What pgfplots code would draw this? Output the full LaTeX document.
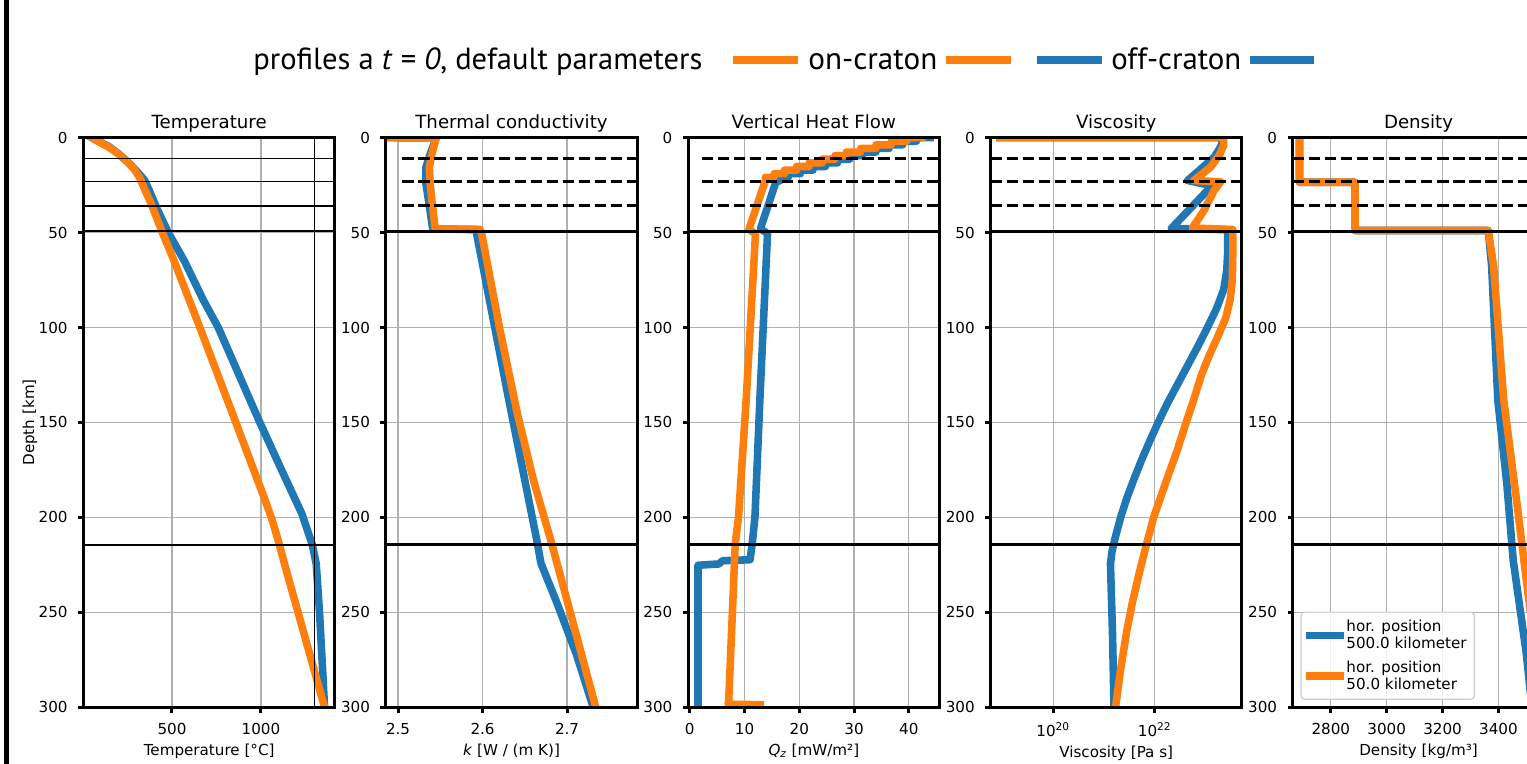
\documentclass[border=0pt]{standalone}
\usepackage{fontspec}
\setmainfont{DejaVu Sans}
\newfontfamily\titlefont{PT Sans}
\usepackage{pgfplots}
\pgfplotsset{compat=1.18}
\definecolor{cblue}{HTML}{1F77B4}
\definecolor{corange}{HTML}{FF7F0E}
\tikzset{
  dl/.style={line width=2.18pt, dash pattern=on 8.07pt off 3.49pt},
  sl/.style={line width=2.18pt},
  bl/.style={cblue, line width=5.45pt, line cap=rect, line join=round},
  or/.style={corange, line width=5.45pt, line cap=rect, line join=round},
}
\pgfplotsset{
  prof/.style={
    scale only axis, width=181.08pt, height=410.18pt, anchor=south west,
    y dir=reverse, ymin=0, ymax=300,
    ytick={0,50,100,150,200,250,300},
    yticklabels={0,50,100,150,200,250,300},
    axis line style={line width=2.18pt},
    tick align=outside, xtick pos=left, ytick pos=left,
    major tick length=3.82pt,
    tick style={line width=2.18pt, black},
    grid=major, major grid style={line width=0.87pt, color=black!31},
    title style={font=\fontsize{13.09}{15}\selectfont, anchor=base, at={(0.5,1)}, yshift=0.55pt},
    tick label style={font=\fontsize{10.91}{13}\selectfont},
    label style={font=\fontsize{10.91}{13}\selectfont},
    xticklabel shift=4pt, yticklabel shift=4pt,
    /pgf/number format/assume math mode=true,
    clip mode=individual,
  },
}
\begin{document}
\begin{tikzpicture}
\fill[black] (2.88pt,0pt) rectangle (6.48pt,-550.08pt);
% figure title and legend
\node[anchor=base west, inner sep=0pt] at (182.2pt,-50.4pt) {\resizebox{323.3pt}{!}{\titlefont profiles a \textit{t} = \textit{0}, default parameters}};
\draw[corange, line width=6pt] (527.8pt,-43.2pt) -- (574.6pt,-43.2pt);
\node[anchor=base west, inner sep=0pt] at (581.8pt,-50.4pt) {\resizebox{92.9pt}{!}{\titlefont on-craton}};
\draw[corange, line width=6pt] (681.1pt,-43.2pt) -- (727.9pt,-43.2pt);
\draw[cblue, line width=6pt] (746.6pt,-43.2pt) -- (793.4pt,-43.2pt);
\node[anchor=base west, inner sep=0pt] at (799.9pt,-50.4pt) {\resizebox{93.6pt}{!}{\titlefont off-craton}};
\draw[cblue, line width=6pt] (900pt,-43.2pt) -- (946.1pt,-43.2pt);

% Panel 1: Temperature
\begin{axis}[prof, at={(60.05pt,-509.26pt)}, xmin=2, xmax=1416,
  xtick={500,1000}, xticklabels={500,1000},
  title={Temperature}, xlabel={Temperature [°C]}, ylabel={Depth [km]},
  ylabel style={at={(ticklabel cs:0.5,-5.8pt)}}]
\addplot[bl] coordinates {(50,0) (100,2.5) (150,5) (200,8.5) (253,13) (300,17.5) (347,22.6) (380,29.5) (412,36.7) (478,49.8) (570,65) (676,85.5) (760,100) (877,125) (994,150) (1116,175) (1230,198) (1289,214.4) (1311,224.4) (1330,250.7) (1358,300)};
\addplot[or] coordinates {(47,0) (100,2.8) (150,5.3) (200,8.7) (253,13) (290,17) (318,21) (350,28) (384,35) (449,50.7) (506,63.5) (597,85.5) (657,100) (859,150) (1020,190) (1062,201) (1100,213) (1140,227) (1358,300)};
\draw[line width=1.09pt] (axis cs:2,11) -- (axis cs:1416,11);
\draw[line width=1.09pt] (axis cs:2,23) -- (axis cs:1416,23);
\draw[line width=1.09pt] (axis cs:2,36) -- (axis cs:1416,36);
\draw[line width=1.09pt] (axis cs:2,49.3) -- (axis cs:1416,49.3);
\draw[line width=1.09pt] (axis cs:2,214.4) -- (axis cs:1416,214.4);
\draw[line width=1.09pt] (axis cs:1300,0) -- (axis cs:1300,300);
\draw[sl] (rel axis cs:0,0) rectangle (rel axis cs:1,1);
\end{axis}

% Panel 2: Thermal conductivity
\begin{axis}[prof, at={(277.74pt,-509.26pt)}, xmin=2.4854, xmax=2.7831,
  xtick={2.5,2.6,2.7}, xticklabels={2.5,2.6,2.7},
  title={Thermal conductivity}, xlabel={\textit{k} [W / (m K)]}]
\addplot[bl] coordinates {(2.49,0) (2.545,0.3) (2.538,8.6) (2.533,15.6) (2.533,24.4) (2.536,33) (2.541,48) (2.595,48.5) (2.593,50.7) (2.631,138) (2.665,213.8) (2.669,224) (2.688,245) (2.711,272) (2.731,300)};
\addplot[or] coordinates {(2.49,0) (2.545,0.3) (2.540,8.6) (2.537,15.6) (2.538,24.4) (2.540,33) (2.544,48) (2.597,48.3) (2.599,50.7) (2.620,100) (2.641,145) (2.660,180) (2.682,214) (2.705,252) (2.734,300)};
\draw[dl] (axis cs:2.505,11) -- (axis cs:2.7831,11);
\draw[dl] (axis cs:2.505,23) -- (axis cs:2.7831,23);
\draw[dl] (axis cs:2.505,36) -- (axis cs:2.7831,36);
\draw[sl] (axis cs:2.4854,49.3) -- (axis cs:2.7831,49.3);
\draw[sl] (axis cs:2.4854,214.4) -- (axis cs:2.7831,214.4);
\draw[sl] (rel axis cs:0,0) rectangle (rel axis cs:1,1);
\end{axis}

% Panel 3: Vertical heat flow
\begin{axis}[prof, at={(495.43pt,-509.26pt)}, xmin=-0.31, xmax=45.63,
  xtick={0,10,20,30,40}, xticklabels={0,10,20,30,40},
  title={Vertical Heat Flow}, xlabel={\textit{Q}\textsubscript{\textit{z}} [mW/m²]}]
\addplot[bl] coordinates {(43.9,0) (41.4,0) (41.4,1.9) (38.9,1.9) (38.9,3.8) (36.4,3.8) (36.4,5.7) (34.0,5.7) (34.0,7.6) (31.5,7.6) (31.5,9.5) (29.2,9.5) (29.2,11.4) (27.0,11.4) (27.0,13.3) (24.8,13.3) (24.8,15.2) (22.5,15.2) (22.5,17.1) (20.2,17.1) (20.2,19.0) (18.0,19.0) (18.0,20.9) (16.5,20.9) (16.5,22.6) (15.7,23.5) (12.9,48.0) (14.2,50.5) (12.8,138) (11.9,199.8) (11.4,213.8) (11.0,222.3) (6.0,222.8) (5.3,224.5) (1.5,225.2) (1.5,300)};
\addplot[or] coordinates {(42.4,0) (39.6,0) (39.6,1.9) (36.8,1.9) (36.8,3.8) (34.0,3.8) (34.0,5.7) (31.2,5.7) (31.2,7.6) (28.6,7.6) (28.6,9.5) (26.5,9.5) (26.5,11.4) (24.2,11.4) (24.2,13.3) (21.8,13.3) (21.8,15.2) (19.5,15.2) (19.5,17.1) (17.3,17.1) (17.3,19.0) (15.4,19.0) (15.4,20.9) (13.8,20.9) (13.8,22.6) (10.8,48.3) (12.0,50.7) (10.3,138) (8.9,199.8) (8.3,213.8) (7.1,297) (7.0,298.4) (12.9,298.6)};
\draw[dl] (axis cs:2.2,11) -- (axis cs:45.63,11);
\draw[dl] (axis cs:2.2,23) -- (axis cs:45.63,23);
\draw[dl] (axis cs:2.2,36) -- (axis cs:45.63,36);
\draw[sl] (axis cs:-0.31,49.3) -- (axis cs:45.63,49.3);
\draw[sl] (axis cs:-0.31,214.4) -- (axis cs:45.63,214.4);
\draw[sl] (rel axis cs:0,0) rectangle (rel axis cs:1,1);
\end{axis}

% Panel 4: Viscosity (log10 of values, labelled as powers of ten)
\begin{axis}[prof, at={(713.12pt,-509.26pt)}, xmin=18.766, xmax=23.72,
  xtick={20,22}, xticklabels={10\textsuperscript{20},10\textsuperscript{22}},
  title={Viscosity}, xlabel={Viscosity [Pa s]}]
\addplot[bl] coordinates {(18.95,0) (23.33,0) (23.32,4) (23.17,10.4) (22.65,22.6) (23.13,25.3) (22.33,47.8) (23.44,48.5) (23.44,60) (23.42,70) (23.36,80) (23.22,90) (23.04,100) (22.85,110) (22.65,120) (22.45,130) (22.25,140) (22.07,150) (21.90,160) (21.74,170) (21.59,180) (21.45,190) (21.33,200) (21.23,210) (21.16,218) (21.13,224.4) (21.17,261) (21.2,300)};
\addplot[or] coordinates {(18.95,0) (23.36,0) (23.36,4) (23.28,9) (23.1,15.6) (22.77,22.6) (23.3,23.3) (23.17,27.9) (22.97,38.4) (22.74,47.6) (23.54,48.4) (23.54,60) (23.53,75) (23.49,85) (23.40,95) (23.24,105) (23.07,115) (22.92,125) (22.77,138) (22.62,150) (22.44,165) (22.24,180) (21.98,200) (21.84,214) (21.69,230) (21.56,245) (21.45,260) (21.33,280) (21.23,300)};
\draw[dl] (axis cs:18.766,11) -- (axis cs:23.72,11);
\draw[dl] (axis cs:18.766,23) -- (axis cs:23.72,23);
\draw[dl] (axis cs:18.766,36) -- (axis cs:23.72,36);
\draw[sl] (axis cs:18.766,49.3) -- (axis cs:23.72,49.3);
\draw[sl] (axis cs:18.766,214.4) -- (axis cs:23.72,214.4);
\draw[sl] (rel axis cs:0,0) rectangle (rel axis cs:1,1);
\end{axis}

% Panel 5: Density
\begin{axis}[prof, at={(930.82pt,-509.26pt)}, xmin=2664, xmax=3564.4,
  xtick={2800,3000,3200,3400}, xticklabels={2800,3000,3200,3400},
  title={Density}, xlabel={Density [kg/m³]},
  legend image code/.code={\draw[#1] (0pt,0pt) -- (21.8pt,0pt);},
  legend style={at={(0.03,0.013)}, anchor=south west, draw=black!20, line width=0.87pt,
    rounded corners=2.5pt, fill=white, fill opacity=0.8, draw opacity=1, text opacity=1,
    font=\fontsize{10.91}{12.6}\selectfont, cells={align=left, anchor=west}, row sep=3pt, inner sep=3.5pt},
  legend cell align=left]
\addplot[bl] coordinates {(2688,0) (2688,23.5) (2887,23.5) (2887,48.9) (3364,48.9) (3376,68) (3398,138.4) (3430,182) (3453,222.6) (3500,271.7) (3520,300)};
\addlegendentry{hor. position\\500.0 kilometer}
\addplot[or] coordinates {(2688,0) (2688,23.5) (2887,23.5) (2887,48.9) (3364,48.9) (3383,68) (3419,138) (3465,191) (3500,233) (3558,300)};
\addlegendentry{hor. position\\50.0 kilometer}
\draw[dl] (axis cs:2664,11) -- (axis cs:3564.4,11);
\draw[dl] (axis cs:2664,23) -- (axis cs:3564.4,23);
\draw[dl] (axis cs:2664,36) -- (axis cs:3564.4,36);
\draw[sl] (axis cs:2664,49.3) -- (axis cs:3564.4,49.3);
\draw[sl] (axis cs:2664,214.4) -- (axis cs:3564.4,214.4);
\draw[sl] (rel axis cs:0,0) rectangle (rel axis cs:1,1);
\end{axis}

\pgfresetboundingbox
\path[use as bounding box] (0pt,0pt) rectangle (1099.44pt,-550.08pt);
\end{tikzpicture}
\end{document}
